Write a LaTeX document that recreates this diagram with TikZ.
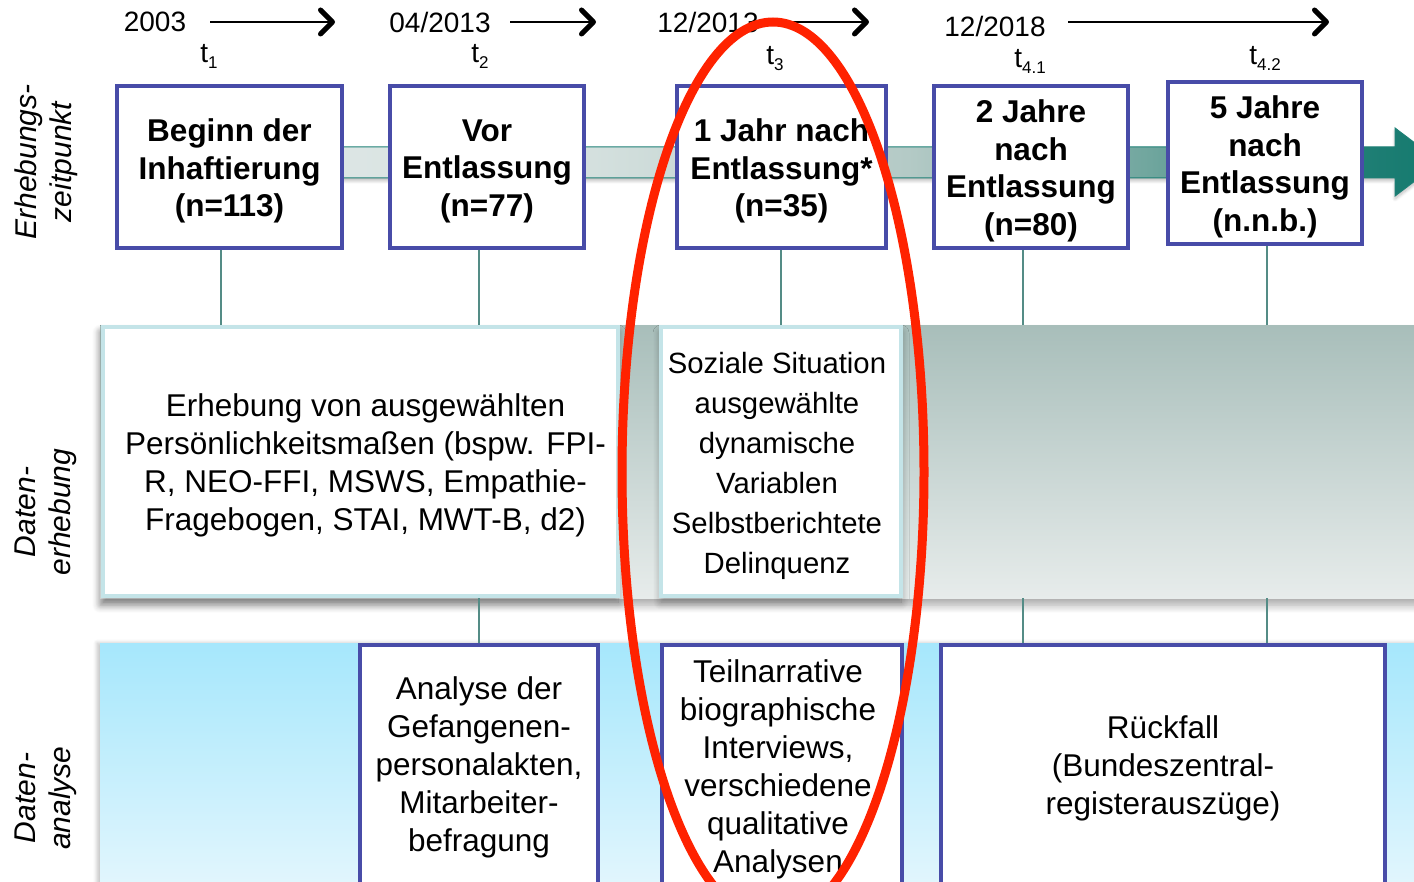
\documentclass[tikz,border=0pt]{standalone}
\usepackage{fontspec}
\setmainfont{Liberation Sans}
\usetikzlibrary{arrows.meta,shadows.blur}

\definecolor{frameblue}{RGB}{72,76,168}
\definecolor{linkteal}{RGB}{84,140,134}
\definecolor{bandA}{RGB}{224,232,231}
\definecolor{bandB}{RGB}{212,224,222}
\definecolor{bandC}{RGB}{180,202,198}
\definecolor{bandD}{RGB}{112,166,158}
\definecolor{bandE}{RGB}{30,126,116}
\definecolor{bandF}{RGB}{20,122,110}
\definecolor{edgeteal}{RGB}{30,128,118}
\definecolor{grtop}{RGB}{168,190,186}
\definecolor{grbot}{RGB}{231,236,235}
\definecolor{cyanedge}{RGB}{196,228,232}
\definecolor{skytop}{RGB}{166,231,252}
\definecolor{skybot}{RGB}{230,247,253}
\definecolor{ringred}{RGB}{255,34,0}

% timeline band: light on the left, dark teal towards the head
\pgfdeclarehorizontalshading{bandshade}{100bp}{color(0bp)=(bandA); color(25bp)=(bandA); color(40bp)=(bandB); color(53bp)=(bandC); color(63bp)=(bandD); color(72bp)=(bandE); color(75bp)=(bandF); color(100bp)=(bandF)}

% time point label with a lowered index
\newcommand{\tpoint}[1]{t\raisebox{-6pt}{\fontsize{17}{17}\selectfont #1}}

\tikzset{
  stage/.style={draw=frameblue, line width=4pt, fill=white, inner sep=0pt},
  stagetext/.style={align=center, inner sep=0pt, yshift=-4pt,
    font=\bfseries\fontsize{31.5}{37.5}\selectfont},
  datebox/.style={draw=cyanedge, line width=4pt, fill=white, inner sep=0pt},
  anbox/.style={draw=frameblue, line width=4pt, fill=white, inner sep=0pt},
  body/.style={align=center, inner sep=0pt, yshift=-4pt, font=\fontsize{31.5}{38}\selectfont},
  date/.style={inner sep=0pt, font=\fontsize{28}{30}\selectfont},
  tlabel/.style={inner sep=0pt, anchor=base, font=\fontsize{28}{30}\selectfont},
  side/.style={rotate=90, align=center, inner sep=0pt, font=\itshape\fontsize{30}{35}\selectfont},
  timearrow/.style={line width=2pt, -{Straight Barb[length=12pt,width=24pt,line width=5pt,round]}},
  vline/.style={draw=linkteal, line width=1.3pt},
  softshadow/.style={blur shadow={shadow xshift=0pt, shadow yshift=-#1, shadow blur radius=8pt, shadow blur steps=10, shadow opacity=35}},
}

\begin{document}
\begin{tikzpicture}[x=1pt,y=-1pt]
\useasboundingbox (0,0) rectangle (1414,882);

% timeline along the top
\node[date] (d1) at (155,22) {2003};
\node[date] (d2) at (440,22) {04/2013};
\node[date] (d3) at (708,22) {12/2013};
\node[date] (d4) at (995,26) {12/2018};
\coordinate (a1s) at (210,22); \coordinate (a1e) at (335,22);
\coordinate (a2s) at (510,22); \coordinate (a2e) at (596,22);
\coordinate (a3s) at (780,22); \coordinate (a3e) at (869,22);
\coordinate (a4s) at (1068,22); \coordinate (a4e) at (1329,22);
\draw[timearrow] (a1s) -- (a1e);
\draw[timearrow] (a2s) -- (a2e);
\draw[timearrow] (a3s) -- (a3e);
\draw[timearrow] (a4s) -- (a4e);

\node[tlabel] (t1) at (209,63) {\tpoint{1}};
\node[tlabel] (t2) at (480,63) {\tpoint{2}};
\node[tlabel] (t3) at (775,65) {\tpoint{3}};
\node[tlabel] (t41) at (1030,68) {\tpoint{4.1}};
\node[tlabel] (t42) at (1265,65) {\tpoint{4.2}};

% row labels
\node[side] (s1) at (46,162) {Erhebungs-\\zeitpunkt};
\node[side] (s2) at (46,512) {Daten-\\erhebung};
\node[side] (s3) at (46,798) {Daten-\\analyse};

% the band arrow behind the stages
\path[shading=bandshade, draw=edgeteal, line width=1pt,
      blur shadow={shadow xshift=0pt, shadow yshift=-3pt, shadow blur radius=3pt, shadow blur steps=6, shadow opacity=25}]
  (230,147) -- (1395,147) -- (1395,128) -- (1440,162) -- (1395,196) -- (1395,178) -- (230,178) -- cycle;

% stages
\node[stage, minimum width=225pt, minimum height=162pt] (b1) at (229.5,167) {};
\node[stage, minimum width=194pt, minimum height=162pt] (b2) at (487,167) {};
\node[stage, minimum width=209pt, minimum height=162pt] (b3) at (781.5,167) {};
\node[stage, minimum width=194pt, minimum height=162pt] (b4) at (1031,167) {};
\node[stage, minimum width=194pt, minimum height=162pt] (b5) at (1265,163) {};
\node[stagetext] at (b1.center) {Beginn der\\Inhaftierung\\(n=113)};
\node[stagetext] at (b2.center) {Vor\\Entlassung\\(n=77)};
\node[stagetext] at (b3.center) {1 Jahr nach\\Entlassung*\\(n=35)};
\node[stagetext] at (b4.center) {2 Jahre\\nach\\Entlassung\\(n=80)};
\node[stagetext] at (b5.center) {5 Jahre\\nach\\Entlassung\\(n.n.b.)};

% data collection band
\node[anchor=north west, inner sep=0pt, minimum width=1330pt, minimum height=273pt,
      top color=grtop, bottom color=grbot, softshadow=7pt] (deb) at (100,325) {};
\node[datebox, minimum width=515pt, minimum height=269pt, softshadow=6pt] (ca) at (360.5,461.5) {};
\node[datebox, minimum width=240pt, minimum height=269pt, softshadow=6pt] (cb) at (781,461.5) {};
\node[body] at ([xshift=5pt]ca.center) {Erhebung von ausgewählten\\Persönlichkeitsmaßen (bspw. FPI-\\R, NEO-FFI, MSWS, Empathie-\\Fragebogen, STAI, MWT-B, d2)};
\node[body, font=\fontsize{29.3}{40}\selectfont] at ([xshift=-4pt]cb.center) {Soziale Situation\\ausgewählte\\dynamische\\Variablen\\Selbstberichtete\\Delinquenz};

% data analysis band
\node[anchor=north west, inner sep=0pt, minimum width=1330pt, minimum height=260pt,
      top color=skytop, bottom color=skybot,
      blur shadow={shadow xshift=-3pt, shadow yshift=0pt, shadow blur radius=4pt, shadow blur steps=8, shadow opacity=25}]
  (anb) at (100,643) {};
\node[anbox, minimum width=238pt, minimum height=300pt] (aa) at (479,795) {};
\node[anbox, minimum width=240pt, minimum height=300pt] (ab) at (782,795) {};
\node[anbox, minimum width=444pt, minimum height=300pt] (ac) at (1163,795) {};
\node[body] at ([yshift=-120pt]aa.north) {Analyse der\\Gefangenen-\\personalakten,\\Mitarbeiter-\\befragung};
\node[body] at ([xshift=-4pt,yshift=-122pt]ab.north) {Teilnarrative\\biographische\\Interviews,\\verschiedene\\qualitative\\Analysen};
\node[body] at ([yshift=-121pt]ac.north) {Rückfall\\(Bundeszentral-\\registerauszüge)};

% drop lines linking the rows
\coordinate (x1) at (221,0);
\coordinate (x2) at (479,0);
\coordinate (x3) at (781,0);
\coordinate (x4) at (1023,0);
\coordinate (x5) at (1267,0);
\draw[vline] (b1.south -| x1) -- (deb.north -| x1);
\draw[vline] (b2.south -| x2) -- (deb.north -| x2);
\draw[vline] (b3.south -| x3) -- (deb.north -| x3);
\draw[vline] (b4.south -| x4) -- (deb.north -| x4);
\draw[vline] (b5.south -| x5) -- (deb.north -| x5);
\draw[vline] (deb.south -| x2) -- (aa.north);
\draw[vline] (deb.south -| x4) -- (ac.north -| x4);
\draw[vline] (deb.south -| x5) -- (ac.north -| x5);

% highlight ring
\draw[ringred, line width=9pt] (773,472) ellipse [x radius=151, y radius=450];
\end{tikzpicture}
\end{document}
